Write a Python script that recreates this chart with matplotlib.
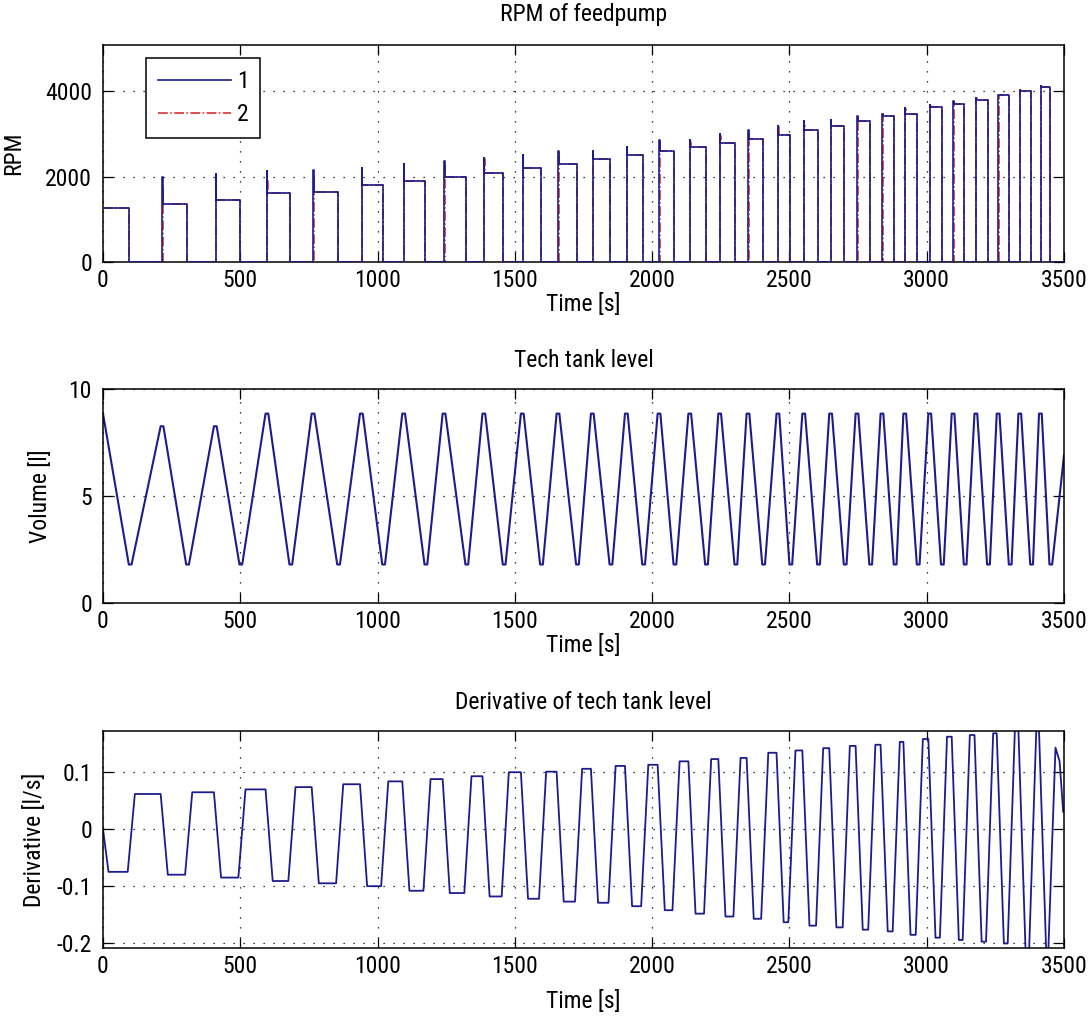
import numpy as np
import matplotlib
matplotlib.use("Agg")
import matplotlib.pyplot as plt
from matplotlib import font_manager

# pick a narrow sans font if one is installed
_names = {f.name for f in font_manager.fontManager.ttflist}
_stretch = {(f.name, f.stretch) for f in font_manager.fontManager.ttflist}
FONT = None
FS = 17
STRETCH = 'normal'
for cand in ['Liberation Sans Narrow', 'Roboto Condensed', 'Open Sans Condensed', 'Noto Sans Condensed']:
    if cand in _names:
        FONT = cand
        break
if FONT is None:
    cond = [n for (n, s) in _stretch if s in ('condensed', 'semi-condensed', 'extra-condensed', 600, 500, 400, 300)
            and n in ('DejaVu Sans', 'Noto Sans', 'Roboto', 'Open Sans', 'Liberation Sans')]
    if cond:
        FONT = cond[0]
        STRETCH = 'condensed'
if FONT is None:
    FONT = 'Liberation Sans'
    FS = 15

plt.rcParams['font.family'] = [FONT, 'DejaVu Sans']
plt.rcParams['font.stretch'] = STRETCH
plt.rcParams['axes.unicode_minus'] = False

# ---------------- data ----------------
# pump-on intervals [s]
t_on = [0, 216, 410, 598, 766, 942, 1096, 1243, 1388, 1528, 1658, 1783, 1907, 2026, 2138,
        2247, 2350, 2459, 2553, 2651, 2747, 2838, 2921, 3012, 3097, 3180, 3261, 3340, 3415]
t_off = [96, 305, 499, 681, 855, 1019, 1173, 1322, 1458, 1594, 1725, 1847, 1966, 2080, 2195,
         2302, 2403, 2502, 2603, 2700, 2793, 2882, 2966, 3054, 3137, 3222, 3301, 3379, 3449]
# RPM plateau during each pulse, and overshoot at pulse start (series 1 and 2)
rpm_level = [1260, 1350, 1455, 1605, 1650, 1810, 1905, 2000, 2085, 2200, 2300, 2400, 2500, 2595, 2695,
             2790, 2885, 2980, 3090, 3185, 3290, 3420, 3470, 3620, 3710, 3800, 3905, 4000, 4100]
rpm_spike_1 = [1260, 1985, 2065, 2140, 2160, 2200, 2300, 2355, 2445, 2500, 2590, 2590, 2695, 2855, 2855,
               2990, 3090, 3185, 3290, 3330, 3420, 3470, 3605, 3685, 3765, 3840, 3920, 4020, 4120]
rpm_spike_2 = [1260, 1700, 1800, 1900, 1950, 2050, 2150, 2250, 2400, 2450, 2560, 2560, 2650, 2800, 2800,
               2950, 3050, 3150, 3250, 3300, 3400, 3460, 3580, 3660, 3750, 3830, 3900, 4000, 4100]

# tech tank level: peak (at pump start) and trough (at pump stop) per cycle [l]
level_peak = [8.85, 8.26, 8.26, 8.85, 8.85, 8.85, 8.85, 8.85, 8.85, 8.85, 8.85, 8.85, 8.85, 8.85, 8.85,
              8.85, 8.85, 8.85, 8.85, 8.85, 8.85, 8.85, 8.85, 8.85, 8.85, 8.85, 8.85, 8.85, 8.85]
level_trough = [1.8] * 29
level_end = 6.9

# derivative plateaus per cycle [l/s]
deriv_neg = [-0.075, -0.080, -0.085, -0.091, -0.095, -0.100, -0.108, -0.112, -0.118, -0.122,
             -0.127, -0.129, -0.135, -0.142, -0.148, -0.153, -0.157, -0.163, -0.169, -0.172,
             -0.176, -0.179, -0.185, -0.190, -0.194, -0.197, -0.200, -0.212, -0.212]
deriv_pos = [0.061, 0.064, 0.069, 0.073, 0.078, 0.083, 0.087, 0.092, 0.099, 0.100,
             0.105, 0.110, 0.112, 0.118, 0.122, 0.124, 0.133, 0.137, 0.141, 0.145,
             0.147, 0.152, 0.157, 0.161, 0.164, 0.167, 0.172, 0.172, 0.142]
deriv_end_t = [3484, 3497]
deriv_end_v = [0.118, 0.030]

t_end = 3500
x_ticks = [0, 500, 1000, 1500, 2000, 2500, 3000, 3500]
rpm_ticks = [0, 2000, 4000]
vol_ticks = [0, 5, 10]
der_ticks = [-0.2, -0.1, 0, 0.1]
der_tick_labels = ['-0.2', '-0.1', '0', '0.1']

# ---------------- build line vertices ----------------
def rpm_series(spikes, delay):
    ts, vs = [], []
    for i, (a, b, lv, sp) in enumerate(zip(t_on, t_off, rpm_level, spikes)):
        if i == 0:
            ts += [a, b, b]
            vs += [lv, lv, 0]
        else:
            a2 = a + delay
            ts += [a2, a2, a2 + 1, a2 + 1, b, b]
            vs += [0, sp, sp, lv, lv, 0]
    ts.append(t_end)
    vs.append(0)
    return ts, vs

rpm1_t, rpm1_v = rpm_series(rpm_spike_1, 0)
rpm2_t, rpm2_v = rpm_series(rpm_spike_2, 1)

lvl_t, lvl_v = [0], [level_peak[0]]
for i, (a, b) in enumerate(zip(t_on, t_off)):
    if i > 0:
        lvl_t += [a - 6, a + 4]
        lvl_v += [level_peak[i], level_peak[i]]
    lvl_t += [b - 2, b + 8]
    lvl_v += [level_trough[i], level_trough[i]]
lvl_t.append(t_end)
lvl_v.append(level_end)

lead, lag = 6, 20
d_t, d_v = [0], [0.0]
n = len(t_on)
for i in range(n):
    d_t += [t_on[i] + lag, t_off[i] - lead, t_off[i] + lag]
    d_v += [deriv_neg[i], deriv_neg[i], deriv_pos[i]]
    if i < n - 1:
        d_t.append(t_on[i + 1] - lead)
        d_v.append(deriv_pos[i])
d_t += deriv_end_t
d_v += deriv_end_v

# ---------------- figure ----------------
W, H = 1088, 1022
fig = plt.figure(figsize=(W / 100, H / 100), dpi=100, facecolor='white')

def axes_px(left, top, right, bottom):
    return fig.add_axes([left / W, 1 - bottom / H, (right - left) / W, (bottom - top) / H])

ax1 = axes_px(103, 45, 1064, 262)
ax2 = axes_px(103, 389, 1064, 603)
ax3 = axes_px(103, 731, 1064, 948)

blue = '#1c1c8c'
red = '#d42020'

for ax in (ax1, ax2, ax3):
    ax.set_xlim(0, t_end)
    ax.set_xticks(x_ticks)
    ax.set_xticklabels([str(v) for v in x_ticks])
    ax.tick_params(direction='in', top=True, right=True, length=7, width=0.9,
                   labelsize=FS, colors='black')
    ax.tick_params(axis='x', pad=5)
    ax.tick_params(axis='y', pad=8)
    ax.grid(True, color='black', linestyle=(0, (1, 7)), linewidth=0.9)
    for s in ax.spines.values():
        s.set_linewidth(1.1)

ax1.set_xlabel('Time [s]', fontsize=FS, labelpad=1)
ax2.set_xlabel('Time [s]', fontsize=FS, labelpad=1)
ax3.set_xlabel('Time [s]', fontsize=FS, labelpad=9)

# top panel
l2, = ax1.plot(rpm2_t, rpm2_v, color=red, linestyle='-.', linewidth=1.1, label='2', zorder=2)
l1, = ax1.plot(rpm1_t, rpm1_v, color=blue, linestyle='-', linewidth=1.2, label='1', zorder=3)
ax1.set_ylim(0, 5080)
ax1.set_yticks(rpm_ticks)
ax1.set_yticklabels([str(v) for v in rpm_ticks])
ax1.set_ylabel('RPM', fontsize=FS, labelpad=14)
ax1.set_title('RPM of feedpump', fontsize=FS, pad=17)
leg = ax1.legend(handles=[l1, l2], labels=['1', '2'], loc='upper left',
                 bbox_to_anchor=((146 - 103) / 961, 1 - (58 - 45) / 217), borderaxespad=0,
                 fontsize=FS, frameon=True, fancybox=False, edgecolor='black',
                 handlelength=3.1, handletextpad=0.25, labelspacing=0.45, borderpad=0.5)
leg.get_frame().set_linewidth(1.1)
leg.get_frame().set_alpha(1)

# middle panel
ax2.plot(lvl_t, lvl_v, color=blue, linewidth=1.5)
ax2.set_ylim(0, 10)
ax2.set_yticks(vol_ticks)
ax2.set_yticklabels([str(v) for v in vol_ticks])
ax2.set_ylabel('Volume [l]', fontsize=FS, labelpad=12)
ax2.set_title('Tech tank level', fontsize=FS, pad=16)

# bottom panel
ax3.plot(d_t, d_v, color=blue, linewidth=1.3)
ax3.set_ylim(-0.208, 0.171)
ax3.set_yticks(der_ticks)
ax3.set_yticklabels(der_tick_labels)
ax3.set_ylabel('Derivative [l/s]', fontsize=FS, labelpad=8)
ax3.set_title('Derivative of tech tank level', fontsize=FS, pad=16)

fig.savefig('out.png', dpi=100, facecolor='white')
